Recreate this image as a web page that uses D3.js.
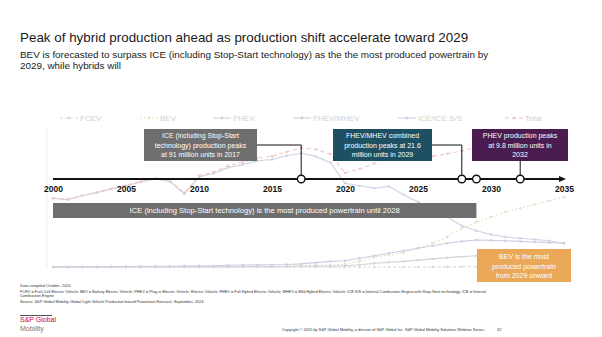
<!DOCTYPE html>
<html><head><meta charset="utf-8">
<script src="https://cdn.jsdelivr.net/npm/d3@7"></script>
<style>
html,body{margin:0;padding:0;background:#fff;}
svg{display:block;font-family:"Liberation Sans",Arial,sans-serif;}
</style></head>
<body><div id="chart"></div>
<script>
// ---------- data ----------
const years = d3.range(2000, 2036);
const seriesNames = ["FCEV","BEV","PHEV","FHEV/MHEV","ICE/ICE S/S","Total"];
const fcev = [0,0,0,0,0,0,0,0,0,0,0,0,0,0,0,0.01,0,0,0,0,0.01,0.02,0.02,0.02,0.03,0.05,0.08,0.1,0.15,0.2,0.25,0.3,0.35,0.4,0.45,0.5];
const bev = [0,0,0,0,0,0,0,0,0,0,0,0.05,0.1,0.15,0.3,0.5,0.7,1.1,1.5,1.6,2.3,4.7,7.9,9.5,11.5,15,19,24,31,36,40,44,47,50,53,56];
const phev = [0,0,0,0,0,0,0,0,0,0,0.01,0.05,0.1,0.15,0.3,0.3,0.4,0.6,0.7,0.6,0.9,1.8,2.9,3.8,4.5,5.5,6.5,7.5,8.3,9.0,9.4,9.7,9.8,9.5,9.0,8.5];
const hev = [0,0.05,0.1,0.1,0.2,0.4,0.5,0.6,0.6,0.8,1.0,0.9,1.4,1.6,1.7,1.8,2.0,2.5,3.5,4.5,5,7,9,11,13,15,17,19,20.5,21.6,21.3,21,20.5,20,19.5,19];
const ice = [55,53.9,57,59.5,62.5,65,68,70.5,68.5,58.5,72,75,79.5,82,85,86,89,91,88.5,83.5,67,65,63,64.5,58,52,46,40,33,29,26,24,23,22,21,19];
const total = [55,54,57.1,59.6,62.7,65.4,68.5,71.1,69.1,59.3,73,76,81.1,83.9,87.3,88.6,92.1,95.2,94.2,90.2,75.2,78.5,82.8,88.8,87,87.6,88.6,90.6,92.9,95.8,96.9,99,100.7,101.9,103,103];
const timelineTicks = [2000,2005,2010,2015,2020,2025,2030,2035];
const milestoneYears = [2017,2028,2029,2032];

const title = "Peak of hybrid production ahead as production shift accelerate toward 2029";
const subtitle = ["BEV is forecasted to surpass ICE (including Stop-Start technology) as the the most produced powertrain by","2029, while hybrids will"];
const calloutICE = ["ICE (including Stop-Start","technology) production peaks","at 91 million units in 2017"];
const calloutHEV = ["FHEV/MHEV combined","production peaks at 21.6","million units in 2029"];
const calloutPHEV = ["PHEV production peaks","at 9.8 million units in","2032"];
const barText = "ICE (including Stop-Start technology) is the most produced powertrain until 2028";
const bevText = ["BEV is the most","produced powertrain","from 2029 onward"];
const notes = ["Data compiled October, 2024.",
"FCEV = Fuel-Cell Electric Vehicle; BEV = Battery Electric Vehicle; PHEV = Plug-in Electric Vehicle; Electric Vehicle; FHEV = Full Hybrid Electric Vehicle; MHEV = Mild Hybrid Electric Vehicle; ICE S/S = Internal Combustion Engine with Stop-Start technology; ICE = Internal",
"Combustion Engine",
"Source: S&P Global Mobility Global Light Vehicle Production based Powertrain Forecast, September, 2024."];
const copyright = "Copyright © 2025 by S&P Global Mobility, a division of S&P Global Inc.  S&P Global Mobility Solutions Webinar Series.";

// ---------- layout ----------
const W = 602, H = 337;
const svg = d3.select("#chart").append("svg").attr("width", W).attr("height", H);
svg.append("rect").attr("width", W).attr("height", H).attr("fill", "#fff");

const x = d3.scaleLinear().domain([2000, 2035]).range([53, 564]);
const y = d3.scaleLinear().domain([0, 100]).range([267, 142]);

// title
svg.append("text").attr("x", 20).attr("y", 42).attr("font-size", 13.4).attr("fill", "#1a1a1a").text(title);
svg.append("g").selectAll("text").data(subtitle).join("text")
  .attr("x", 20).attr("y", (d, i) => 57.5 + i * 11).attr("font-size", 9.9).attr("fill", "#1a1a1a").text(d => d);

// faint axis
svg.append("line").attr("x1", 47).attr("x2", 47).attr("y1", 128).attr("y2", 268).attr("stroke", "#f0f0f0");

// faded line chart
const seriesData = [fcev, bev, phev, hev, ice, total];
const colors = ["#dcdcdc", "#e9dfc6", "#d6d2d6", "#d2cbe0", "#cbd2e2", "#f0c6ca"];
const dashes = ["3,2", "2,2", null, null, null, "4,3"];
const line = d3.line().x((d, i) => x(years[i])).y(d => y(d));
const lg = svg.append("g");
seriesData.forEach((s, k) => {
  lg.append("path").datum(s).attr("d", line).attr("fill", "none")
    .attr("stroke", colors[k]).attr("stroke-width", 1.1).attr("stroke-dasharray", dashes[k]);
  lg.append("g").selectAll("circle").data(s).join("circle")
    .attr("cx", (d, i) => x(years[i])).attr("cy", d => y(d)).attr("r", 1.2).attr("fill", colors[k]);
});

// legend
const legendX = [60, 140, 213, 293, 398, 505];
const leg = svg.append("g");
seriesNames.forEach((n, k) => {
  const g = leg.append("g").attr("transform", `translate(${legendX[k]},118)`);
  g.append("line").attr("x1", 0).attr("x2", 18).attr("y1", 0).attr("y2", 0)
    .attr("stroke", colors[k]).attr("stroke-width", 1.1).attr("stroke-dasharray", dashes[k]);
  g.append("circle").attr("cx", 9).attr("cy", 0).attr("r", 1.4).attr("fill", colors[k]);
  g.append("text").attr("x", 20).attr("y", 3).attr("font-size", 8).attr("fill", "#d0d0d0").text(n);
});

// timeline
const ty = 179;
const tl = svg.append("g");
tl.append("line").attr("x1", x(2000)).attr("x2", x(2035)).attr("y1", ty).attr("y2", ty)
  .attr("stroke", "#111").attr("stroke-width", 1.8);
tl.append("path").attr("d", `M${x(2035)+2},${ty} l-7,-3 l0,6 z`).attr("fill", "#111");
const axis = d3.axisBottom(x).tickValues(timelineTicks).tickSize(0).tickFormat(d3.format("d"));
const ag = svg.append("g").attr("transform", `translate(0,${ty + 4})`).call(axis);
ag.select(".domain").remove();
ag.selectAll("text").attr("font-size", 8.5).attr("font-weight", "bold").attr("fill", "#111")
  .attr("font-family", "Liberation Sans, Arial, sans-serif");

// callout boxes
function callout(x0, x1, y0, y1, fill, lines) {
  svg.append("rect").attr("x", x0).attr("y", y0).attr("width", x1 - x0).attr("height", y1 - y0).attr("fill", fill);
  svg.append("g").selectAll("text").data(lines).join("text")
    .attr("x", (x0 + x1) / 2).attr("y", (d, i) => (y0 + y1) / 2 + (i - 1) * 9.3 + 2.6)
    .attr("text-anchor", "middle").attr("font-size", 7).attr("fill", "#fff").text(d => d);
}
// connectors
const conn = svg.append("g").attr("fill", "none").attr("stroke", "#111").attr("stroke-width", 1);
conn.append("path").attr("d", `M257,145 H${x(2017)} V${ty}`);
conn.append("path").attr("d", `M432,145 H${x(2028)} V${ty}`);
conn.append("path").attr("d", `M${x(2032)},161 V${ty}`);

callout(144, 257, 129, 161, "#6e6e6e", calloutICE);
callout(333, 432, 129, 161, "#1e4f62", calloutHEV);
callout(472, 568, 129, 161, "#4b1c4f", calloutPHEV);

svg.append("g").selectAll("circle").data(milestoneYears).join("circle")
  .attr("cx", d => x(d)).attr("cy", ty).attr("r", 3.8).attr("fill", "#fff").attr("stroke", "#111").attr("stroke-width", 1.4);

// ICE bar
svg.append("rect").attr("x", x(2000)).attr("y", 203).attr("width", x(2029) - x(2000)).attr("height", 15).attr("fill", "#6e6e6e");
svg.append("text").attr("x", (x(2000) + x(2029)) / 2).attr("y", 213.3).attr("text-anchor", "middle")
  .attr("font-size", 7.6).attr("fill", "#fff").text(barText);

// BEV box
svg.append("rect").attr("x", 477).attr("y", 249).attr("width", 94).attr("height", 33).attr("fill", "#eba858");
svg.append("g").selectAll("text").data(bevText).join("text")
  .attr("x", 524).attr("y", (d, i) => 259 + i * 9.5).attr("text-anchor", "middle")
  .attr("font-size", 7).attr("fill", "#fff").text(d => d);

// notes
svg.append("g").selectAll("text").data(notes).join("text")
  .attr("x", 20).attr("y", (d, i) => [287, 292.5, 297, 303][i]).attr("font-size", 3.9).attr("fill", "#333").text(d => d);

// logo
svg.append("line").attr("x1", 20).attr("x2", 52).attr("y1", 315.5).attr("y2", 315.5).attr("stroke", "#222").attr("stroke-width", 0.8);
svg.append("text").attr("x", 20).attr("y", 322).attr("font-size", 7).attr("fill", "#d6002a").text("S&P Global");
svg.append("text").attr("x", 20).attr("y", 331).attr("font-size", 7).attr("fill", "#777").text("Mobility");

svg.append("text").attr("x", 282).attr("y", 331).attr("font-size", 3.9).attr("fill", "#333").text(copyright);
svg.append("text").attr("x", 497).attr("y", 331).attr("font-size", 3.9).attr("fill", "#333").text("32");
</script></body></html>
